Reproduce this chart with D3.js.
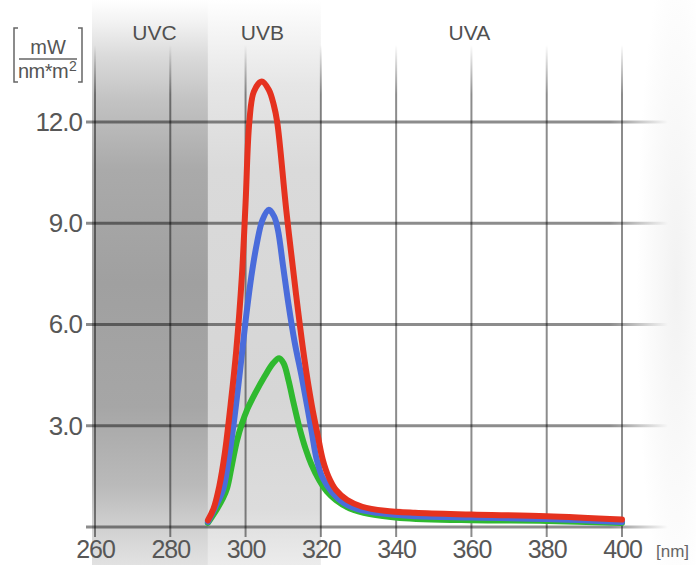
<!DOCTYPE html>
<html><head><meta charset="utf-8">
<script src="https://cdn.jsdelivr.net/npm/d3@7"></script>
<style>body{margin:0;background:#fff}svg{display:block}</style>
</head><body>
<svg id="c" width="696" height="565"></svg>
<script>
// ---- data ----
const xTicks = [260, 280, 300, 320, 340, 360, 380, 400];
const yTicks = [3, 6, 9, 12];
const bandNames = ["UVC", "UVB", "UVA"];
const bandFrom = [260, 290, 320];
const bandTo = [290, 320, 400];

const redNm  = [290, 291.5, 293, 294.5, 296, 297.5, 299, 300, 301, 302.2, 304.3, 306.2, 307.5, 308.4, 310.8, 313.4, 315.6, 317.6, 319.2, 320.5, 322, 324, 327, 331, 337, 345, 360, 380, 400];
const redVal = [0.2, 0.55, 1.2, 2.2, 3.6, 5.2, 7.4, 9.6, 12.0, 12.9, 13.2, 12.95, 12.5, 12.0, 9.4, 6.9, 5.0, 3.6, 2.7, 2.0, 1.5, 1.1, 0.8, 0.6, 0.48, 0.42, 0.37, 0.32, 0.22];

const blueNm  = [290, 292, 294, 295.5, 297, 298.5, 300, 301.5, 303, 304.5, 306.2, 307.6, 308.6, 310, 311.4, 313, 315, 316.5, 317.6, 318.9, 320.5, 323.2, 326, 330, 335, 345, 360, 380, 400];
const blueVal = [0.15, 0.6, 1.1, 2.0, 3.2, 4.6, 6.1, 7.4, 8.4, 9.1, 9.4, 9.2, 8.8, 7.7, 6.6, 5.5, 4.4, 3.5, 2.8, 2.0, 1.45, 1.0, 0.72, 0.52, 0.42, 0.32, 0.28, 0.24, 0.15];

const greenNm  = [290, 292.5, 294, 295.1, 296.4, 297.7, 299, 300.5, 302.5, 305, 307.3, 308.9, 310.1, 311.4, 312.7, 314.3, 316, 317.5, 319.5, 321.6, 324, 327.7, 333, 341, 360, 380, 400];
const greenVal = [0.12, 0.55, 0.85, 1.15, 1.85, 2.55, 3.05, 3.5, 3.95, 4.45, 4.85, 5.0, 4.85, 4.35, 3.7, 2.95, 2.3, 1.85, 1.4, 1.05, 0.8, 0.55, 0.38, 0.27, 0.2, 0.18, 0.12];

const series = [
  {name: "green", nm: greenNm, val: greenVal, color: "#2fb92f"},
  {name: "blue",  nm: blueNm,  val: blueVal,  color: "#4a6cdb"},
  {name: "red",   nm: redNm,   val: redVal,   color: "#e5321f"}
];

// ---- layout ----
const svg = d3.select("#c");
const x = d3.scaleLinear().domain([260, 400]).range([95, 622]);
const y = d3.scaleLinear().domain([0, 12]).range([527, 122]);
const font = "'Liberation Sans', Arial, sans-serif";

const defs = svg.append("defs");
function vgrad(id, stops) {
  const g = defs.append("linearGradient").attr("id", id).attr("x1", 0).attr("y1", 0).attr("x2", 0).attr("y2", 1);
  stops.forEach(s => g.append("stop").attr("offset", s[0]).attr("stop-color", s[1]));
}
vgrad("gUVC", [[0, "#ffffff"], [0.04, "#f2f2f2"], [0.1, "#dadada"], [0.18, "#c2c2c2"], [0.3, "#aaaaaa"], [0.5, "#a0a0a0"], [0.72, "#a6a6a6"], [0.86, "#bababa"], [0.94, "#d2d2d2"], [1, "#e2e2e2"]]);
vgrad("gUVB", [[0, "#ffffff"], [0.05, "#f6f6f6"], [0.15, "#e6e6e6"], [0.3, "#dadada"], [0.7, "#d6d6d6"], [0.9, "#dcdcdc"], [1, "#ececec"]]);
vgrad("gUVA", [[0, "#ffffff"], [1, "#ffffff"]]);

const hf = defs.append("linearGradient").attr("id", "hfade").attr("gradientUnits", "userSpaceOnUse")
  .attr("x1", 86).attr("y1", 0).attr("x2", 668).attr("y2", 0);
hf.append("stop").attr("offset", 0).attr("stop-color", "#000").attr("stop-opacity", 0.45);
hf.append("stop").attr("offset", 0.9).attr("stop-color", "#000").attr("stop-opacity", 0.45);
hf.append("stop").attr("offset", 1).attr("stop-color", "#000").attr("stop-opacity", 0);

const vf = defs.append("linearGradient").attr("id", "vfade").attr("gradientUnits", "userSpaceOnUse")
  .attr("x1", 0).attr("y1", 45).attr("x2", 0).attr("y2", 537);
vf.append("stop").attr("offset", 0).attr("stop-color", "#000").attr("stop-opacity", 0);
vf.append("stop").attr("offset", 0.1).attr("stop-color", "#000").attr("stop-opacity", 0.45);
vf.append("stop").attr("offset", 1).attr("stop-color", "#000").attr("stop-opacity", 0.45);

const rf = defs.append("radialGradient").attr("id", "rfade").attr("cx", 0.7).attr("cy", 0.5).attr("r", 0.6);
rf.append("stop").attr("offset", 0).attr("stop-color", "#f2f2f2");
rf.append("stop").attr("offset", 1).attr("stop-color", "#ffffff");

defs.append("filter").attr("id", "soft").append("feGaussianBlur").attr("stdDeviation", 0.5);

// right-side faint shading
svg.append("rect").attr("x", 630).attr("y", 0).attr("width", 66).attr("height", 565).attr("fill", "url(#rfade)");

// bands
svg.append("g").selectAll("rect").data(bandNames).join("rect")
  .attr("x", (d, i) => i === 0 ? x(bandFrom[i]) - 3 : x(bandFrom[i]))
  .attr("y", 0)
  .attr("width", (d, i) => i === 2 ? 0 : x(bandTo[i]) - x(bandFrom[i]) + (i === 0 ? 3 : 0))
  .attr("height", 565)
  .attr("fill", d => `url(#g${d})`);

// band labels
svg.append("g").selectAll("text").data(bandNames).join("text")
  .attr("x", (d, i) => x((bandFrom[i] + bandTo[i]) / 2) + (i === 0 ? 3 : -2))
  .attr("y", 40)
  .attr("text-anchor", "middle")
  .attr("font-family", font).attr("font-size", 21).attr("fill", "#505050")
  .text(d => d);

// grid
const grid = svg.append("g").attr("filter", "url(#soft)");
grid.selectAll("line.v").data(xTicks).join("line").attr("class", "v")
  .attr("x1", d => x(d)).attr("x2", d => x(d)).attr("y1", 45).attr("y2", 537)
  .attr("stroke", "url(#vfade)").attr("stroke-width", 2);
grid.selectAll("line.h").data([0].concat(yTicks)).join("line").attr("class", "h")
  .attr("x1", 86).attr("x2", 668).attr("y1", d => y(d)).attr("y2", d => y(d))
  .attr("stroke", "url(#hfade)").attr("stroke-width", 3);

// axes (labels)
const gx = svg.append("g").attr("transform", `translate(0,${y(0)})`)
  .call(d3.axisBottom(x).tickValues(xTicks).tickSize(0).tickFormat(d3.format("d")));
gx.select(".domain").remove();
gx.selectAll("text").attr("y", 31).attr("dy", null)
  .attr("font-family", font).attr("font-size", 25).attr("letter-spacing", -1).attr("fill", "#575757");

const gy = svg.append("g").attr("transform", "translate(88,0)")
  .call(d3.axisLeft(y).tickValues(yTicks).tickSize(0).tickPadding(6).tickFormat(d3.format(".1f")));
gy.select(".domain").remove();
gy.selectAll("text").attr("font-family", font).attr("font-size", 26).attr("letter-spacing", -1).attr("fill", "#575757");

svg.append("text").attr("x", 656).attr("y", 557).attr("font-family", font).attr("font-size", 17)
  .attr("fill", "#666").text("[nm]");

// unit label
const u = svg.append("g").attr("fill", "#555").attr("font-family", font);
u.append("path").attr("d", "M18,28 H14 V82 H18 M78,28 H82 V82 H78").attr("fill", "none")
  .attr("stroke", "#666").attr("stroke-width", 1.5);
u.append("text").attr("x", 48).attr("y", 54).attr("text-anchor", "middle").attr("font-size", 20).text("mW");
u.append("line").attr("x1", 19).attr("x2", 77).attr("y1", 59).attr("y2", 59).attr("stroke", "#666").attr("stroke-width", 1.5);
u.append("text").attr("x", 18).attr("y", 78).attr("font-size", 20).attr("letter-spacing", -0.5).text("nm*m");
u.append("text").attr("x", 69).attr("y", 71).attr("font-size", 14).text("2");

// curves
const line = d3.line().x(d => x(d[0])).y(d => y(d[1])).curve(d3.curveCatmullRom.alpha(0.5));
svg.append("g").selectAll("path").data(series).join("path")
  .attr("d", s => line(s.nm.map((n, i) => [n, s.val[i]])))
  .attr("fill", "none").attr("stroke", s => s.color).attr("stroke-width", 6)
  .attr("stroke-linecap", "round").attr("stroke-linejoin", "round");
</script>
</body></html>
